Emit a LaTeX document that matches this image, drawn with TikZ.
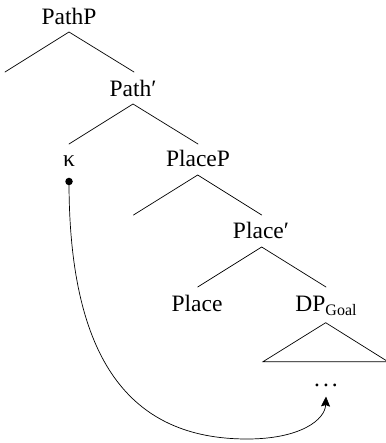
\documentclass[tikz,border=0pt]{standalone}
\usepackage{fontspec}
\setmainfont{Liberation Serif}
\usetikzlibrary{arrows.meta}
\begin{document}
\begin{tikzpicture}[x=1pt,y=-1pt,
  lab/.style={anchor=base,inner sep=0pt,font=\fontsize{23.5}{28}\selectfont},
  branch/.style={line width=0.7pt,line cap=round},
  movearrow/.style={line width=0.7pt,-{Stealth[length=10pt,width=9pt,inset=1.5pt]}}]
\useasboundingbox (0,0) rectangle (385,443);
% labels
\node[lab] (pathP) at (69,25) {PathP};
\node[lab] (pathbar) at (133,96.7) {Path′};
\node[lab] (kappa) at (69,166.7) {κ};
\node[lab] (placeP) at (198,166.7) {PlaceP};
\node[lab] (placebar) at (261,238.3) {Place′};
\node[lab] (place) at (197,311.5) {Place};
\node[lab] (dpgoal) at (326,311.5) {DP{\fontsize{16}{16}\selectfont\raisebox{-4pt}{Goal}}};
\node[lab] (dots) at (326,386.5) {.\kern3pt.\kern3pt.};
% branch points
\coordinate (a1) at (69,32);
\coordinate (a1l) at (5,72);
\coordinate (a1r) at (134,72);
\coordinate (a2) at (133,104);
\coordinate (a2l) at (69,144);
\coordinate (a2r) at (198,144);
\coordinate (a3) at (197.7,175);
\coordinate (a3l) at (133.5,215);
\coordinate (a3r) at (261.7,215);
\coordinate (a4) at (261.7,247);
\coordinate (a4l) at (197.7,287);
\coordinate (a4r) at (326,287);
\coordinate (t1) at (325.7,322.7);
\coordinate (tl) at (263,361.7);
\coordinate (tr) at (388,361.7);
\draw[branch] (a1l) -- (a1) -- (a1r);
\draw[branch] (a2l) -- (a2) -- (a2r);
\draw[branch] (a3l) -- (a3) -- (a3r);
\draw[branch] (a4l) -- (a4) -- (a4r);
\draw[branch,line join=miter] (tl) -- (t1) -- (tr) -- cycle;
% movement
\node[circle,fill=black,inner sep=0pt,minimum size=7.5pt] (kdot) at (69,181.5) {};
\coordinate (bottom) at (247,439);
\coordinate (tip) at (326,396.5);
\draw[movearrow] (kdot.center) .. controls (69,360) and (130,439) .. (bottom)
  .. controls (300,439) and (325,420) .. (tip);
\end{tikzpicture}
\end{document}
